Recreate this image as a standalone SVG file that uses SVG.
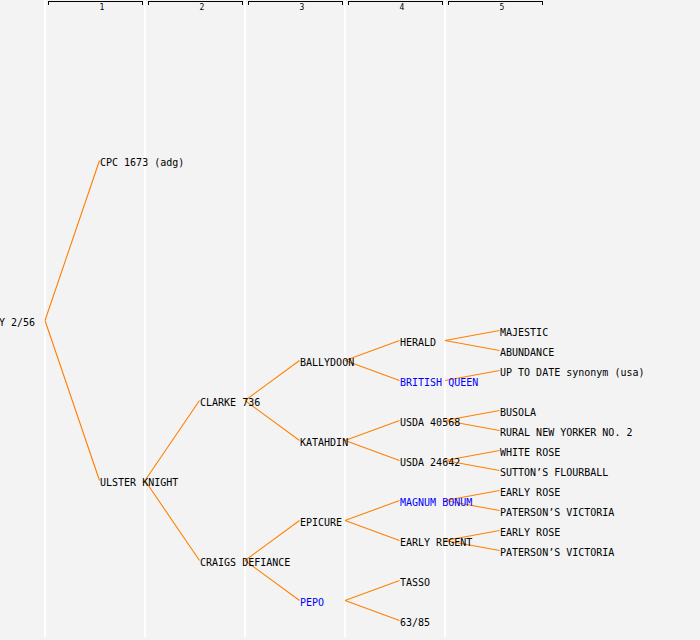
<svg xmlns="http://www.w3.org/2000/svg" width="700" height="640" viewBox="0 0 700 640">
<style>
.bg{fill:#f3f3f3}
.col{stroke:#ffffff;stroke-width:2}
.br{fill:none;stroke:#000000;stroke-width:1;shape-rendering:crispEdges}
.hn{font-family:"DejaVu Sans Mono","Liberation Mono",monospace;font-size:8px;fill:#000;text-anchor:middle}
text.n{font-family:"DejaVu Sans Mono","Liberation Mono",monospace;font-size:10px;fill:#000}
text.b{fill:#0000ff}
.c path{fill:none;stroke:#ff8000;stroke-width:1.1}
</style>
<rect class="bg" x="0" y="0" width="700" height="640"/>
<g id="columns">
<line class="col" x1="45" y1="0" x2="45" y2="637"/>
<line class="col" x1="145" y1="0" x2="145" y2="637"/>
<line class="col" x1="245" y1="0" x2="245" y2="637"/>
<line class="col" x1="345" y1="0" x2="345" y2="637"/>
<line class="col" x1="445" y1="0" x2="445" y2="637"/>
</g>
<g id="header">
<path class="br" d="M48.5,4.5V1.5H142.5V4.5"/>
<path class="br" d="M148.5,4.5V1.5H242.5V4.5"/>
<path class="br" d="M248.5,4.5V1.5H342.5V4.5"/>
<path class="br" d="M348.5,4.5V1.5H442.5V4.5"/>
<path class="br" d="M448.5,4.5V1.5H542.5V4.5"/>
<text class="hn" x="102" y="10">1</text>
<text class="hn" x="202" y="10">2</text>
<text class="hn" x="302" y="10">3</text>
<text class="hn" x="402" y="10">4</text>
<text class="hn" x="502" y="10">5</text>
</g>
<g id="connectors" class="c">
<path d="M45,320.5L99.5,160.5M45,320.5L99.5,480.5"/>
<path d="M145,480.5L199.5,400.5M145,480.5L199.5,560.5"/>
<path d="M245,400.5L299.5,360.5M245,400.5L299.5,440.5"/>
<path d="M245,560.5L299.5,520.5M245,560.5L299.5,600.5"/>
<path d="M345,360.5L399.5,340.5M345,360.5L399.5,380.5"/>
<path d="M345,440.5L399.5,420.5M345,440.5L399.5,460.5"/>
<path d="M345,520.5L399.5,500.5M345,520.5L399.5,540.5"/>
<path d="M345,600.5L399.5,580.5M345,600.5L399.5,620.5"/>
<path d="M445,340.5L499.5,330.5M445,340.5L499.5,350.5"/>
<path d="M445,380.5L499.5,370.5"/>
<path d="M445,420.5L499.5,410.5M445,420.5L499.5,430.5"/>
<path d="M445,460.5L499.5,450.5M445,460.5L499.5,470.5"/>
<path d="M445,500.5L499.5,490.5M445,500.5L499.5,510.5"/>
<path d="M445,540.5L499.5,530.5M445,540.5L499.5,550.5"/>
</g>
<g id="root"><text class="n" x="-1" y="326">Y 2/56</text></g>
<g id="cpc1673"><text class="n" x="100" y="166">CPC 1673 (adg)</text></g>
<g id="ulsterknight"><text class="n" x="100" y="486">ULSTER KNIGHT</text></g>
<g id="clarke736"><text class="n" x="200" y="406">CLARKE 736</text></g>
<g id="craigsdefiance"><text class="n" x="200" y="566">CRAIGS DEFIANCE</text></g>
<g id="ballydoon"><text class="n" x="300" y="366">BALLYDOON</text></g>
<g id="katahdin"><text class="n" x="300" y="446">KATAHDIN</text></g>
<g id="epicure"><text class="n" x="300" y="526">EPICURE</text></g>
<g id="pepo"><text class="n b" x="300" y="606">PEPO</text></g>
<g id="herald"><text class="n" x="400" y="346">HERALD</text></g>
<g id="britishqueen"><text class="n b" x="400" y="386">BRITISH QUEEN</text></g>
<g id="usda40568"><text class="n" x="400" y="426">USDA 40568</text></g>
<g id="usda24642"><text class="n" x="400" y="466">USDA 24642</text></g>
<g id="magnumbonum"><text class="n b" x="400" y="506">MAGNUM BONUM</text></g>
<g id="earlyregent"><text class="n" x="400" y="546">EARLY REGENT</text></g>
<g id="tasso"><text class="n" x="400" y="586">TASSO</text></g>
<g id="n6385"><text class="n" x="400" y="626">63/85</text></g>
<g id="majestic"><text class="n" x="500" y="336">MAJESTIC</text></g>
<g id="abundance"><text class="n" x="500" y="356">ABUNDANCE</text></g>
<g id="uptodate"><text class="n" x="500" y="376">UP TO DATE synonym (usa)</text></g>
<g id="busola"><text class="n" x="500" y="416">BUSOLA</text></g>
<g id="ruralnewyorker"><text class="n" x="500" y="436">RURAL NEW YORKER NO. 2</text></g>
<g id="whiterose"><text class="n" x="500" y="456">WHITE ROSE</text></g>
<g id="suttons"><text class="n" x="500" y="476">SUTTON’S FLOURBALL</text></g>
<g id="earlyrose1"><text class="n" x="500" y="496">EARLY ROSE</text></g>
<g id="patersons1"><text class="n" x="500" y="516">PATERSON’S VICTORIA</text></g>
<g id="earlyrose2"><text class="n" x="500" y="536">EARLY ROSE</text></g>
<g id="patersons2"><text class="n" x="500" y="556">PATERSON’S VICTORIA</text></g>
</svg>
